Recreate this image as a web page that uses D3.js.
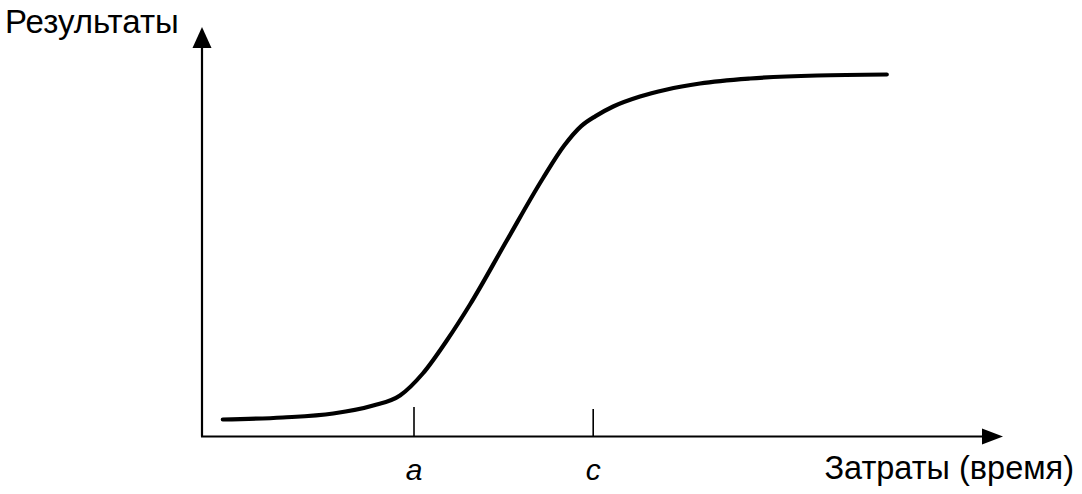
<!DOCTYPE html>
<html><head><meta charset="utf-8">
<script src="https://cdn.jsdelivr.net/npm/d3@7"></script>
<style>html,body{margin:0;padding:0;background:#fff;}svg{display:block;}</style>
</head><body>
<script>
// Data (arbitrary units: x 0..100, y 0..100)
const curveX = [2.6, 10.1, 16.4, 21.4, 24.75, 27.6, 30.6, 33.5, 38.1, 42.6, 45.3, 47.4, 49.2, 51.4, 54.75, 58, 62.25, 68.5, 76.9, 85.6];
const curveY = [4.25, 4.75, 5.75, 7.75, 10.25, 15.75, 24, 33.0, 49.0, 64.5, 72.8, 77.6, 80.1, 82.5, 85.0, 86.7, 88.25, 89.5, 90.25, 90.5];
const tickValues = [26.5, 48.9];
const tickLabels = ["a", "c"];
const yAxisTitle = "Результаты";
const xAxisTitle = "Затраты (время)";

const W = 1082, H = 494;
const x = d3.scaleLinear().domain([0, 100]).range([202, 1002]);
const y = d3.scaleLinear().domain([0, 100]).range([436.5, 36.5]);

const svg = d3.select("body").append("svg").attr("width", W).attr("height", H);

// Axes lines
svg.append("line").attr("x1", x(0)).attr("y1", y(0)).attr("x2", x(0)).attr("y2", 44)
  .attr("stroke", "#000").attr("stroke-width", 2.2);
svg.append("line").attr("x1", x(0) - 1).attr("y1", y(0)).attr("x2", 985).attr("y2", y(0))
  .attr("stroke", "#000").attr("stroke-width", 2.2);
// Arrowheads
svg.append("path").attr("d", `M${x(0)},27 L${x(0)-9.5},48 L${x(0)+9.5},48 Z`).attr("fill", "#000");
svg.append("path").attr("d", `M1003,${y(0)} L982,${y(0)-8} L982,${y(0)+8} Z`).attr("fill", "#000");

// Ticks a, c
const tickTop = [407, 409];
svg.selectAll("line.tick").data(tickValues).enter().append("line")
  .attr("class", "tick")
  .attr("x1", d => x(d)).attr("x2", d => x(d))
  .attr("y1", (d, i) => tickTop[i]).attr("y2", y(0))
  .attr("stroke", "#000").attr("stroke-width", 1.6);
svg.selectAll("text.tl").data(tickLabels).enter().append("text")
  .attr("class", "tl")
  .attr("x", (d, i) => x(tickValues[i])).attr("y", 480)
  .attr("text-anchor", "middle")
  .attr("font-family", "Liberation Sans, Arial, sans-serif")
  .attr("font-style", "italic").attr("font-size", 30)
  .text(d => d);

// Axis titles
svg.append("text").attr("x", 5).attr("y", 33)
  .attr("font-family", "Liberation Sans, Arial, sans-serif").attr("font-size", 33)
  .text(yAxisTitle);
svg.append("text").attr("x", 1074).attr("y", 479).attr("text-anchor", "end")
  .attr("font-family", "Liberation Sans, Arial, sans-serif").attr("font-size", 32.5)
  .text(xAxisTitle);

// S-curve
const pts = curveX.map((v, i) => [v, curveY[i]]);
const line = d3.line().x(d => x(d[0])).y(d => y(d[1])).curve(d3.curveMonotoneX);
svg.append("path").attr("d", line(pts)).attr("fill", "none")
  .attr("stroke", "#000").attr("stroke-width", 4.2).attr("stroke-linecap", "round");
</script>
</body></html>
